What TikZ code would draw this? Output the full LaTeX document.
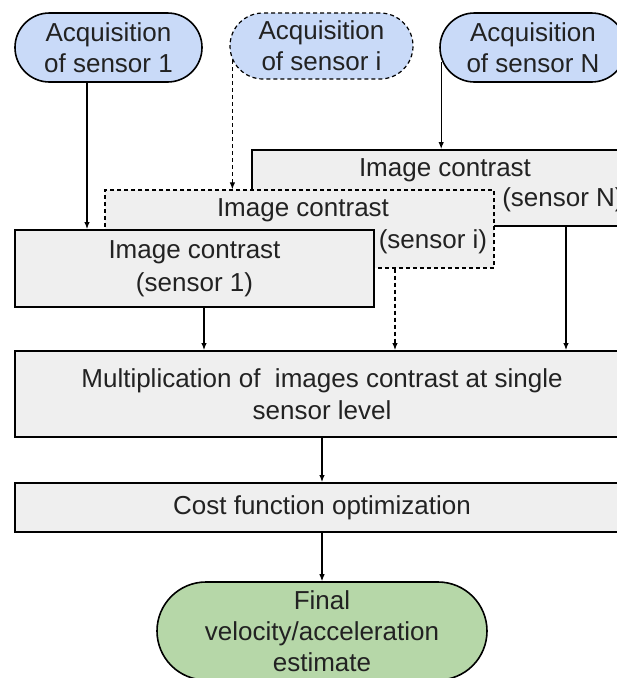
\documentclass[tikz,border=0pt]{standalone}
\usepackage{fontspec}
\setmainfont{Liberation Sans}
\usetikzlibrary{arrows.meta,calc}
\definecolor{boxgray}{HTML}{EFEFEF}
\definecolor{acqblue}{HTML}{C9DAF8}
\definecolor{fingreen}{HTML}{B6D7A8}
\definecolor{txt}{HTML}{222222}
\begin{document}
\begin{tikzpicture}[x=1pt,y=-1pt,
  every node/.style={font=\fontsize{26}{31}\selectfont, text=txt, inner sep=0pt},
  stadium/.style={draw=black, line width=1.6pt, fill=acqblue, align=center},
  procbox/.style={draw=black, line width=2pt, fill=boxgray, align=center},
  dashbox/.style={line width=1.2pt, dash pattern=on 4pt off 3pt},
  conn/.style={-{Latex[length=7pt,width=5.5pt]}, line width=1.1pt, draw=black},
  dconn/.style={conn, dash pattern=on 4pt off 3pt}
]
\useasboundingbox (0,0) rectangle (617,678);
\clip (0,0) rectangle (617,678);

% acquisition nodes
\node[stadium, minimum width=187pt, minimum height=69pt, rounded corners=34.5pt] (acq1) at (108.5,47.5) {Acquisition\\of sensor 1};
\node[stadium, dashbox, minimum width=183pt, minimum height=66pt, rounded corners=33pt] (acqi) at (321.5,46) {Acquisition\\of sensor i};
\node[stadium, minimum width=186pt, minimum height=69pt, rounded corners=34.5pt] (acqN) at (533,47.5) {Acquisition\\of sensor N};

% image contrast boxes (stacked)
\node[procbox, minimum width=384pt, minimum height=76pt] (icN) at (444,188) {};
\node (icNa) at (445,170) {Image contrast};
\node (icNb) at (563,200) {(sensor N)};

\node[procbox, dashbox, minimum width=389pt, minimum height=78pt] (ici) at (299.5,229) {};
\node (icia) at (303,210) {Image contrast};
\node (icib) at (433,242) {(sensor i)};

\node[procbox, minimum width=359pt, minimum height=77pt, font=\fontsize{26}{33}\selectfont] (ic1) at (194.5,268.5) {Image contrast\\(sensor 1)};

% later stages
\node[procbox, minimum width=614pt, minimum height=86pt, font=\fontsize{26}{32}\selectfont] (mult) at (322,394) {Multiplication of\ \ images contrast at single\\sensor level};
\node[procbox, minimum width=614pt, minimum height=49pt] (cost) at (322,507.5) {Cost function optimization};
\node[draw=black, line width=1.6pt, fill=fingreen, align=center, minimum width=330pt, minimum height=98pt, rounded corners=49pt] (final) at (322,631) {Final\\velocity/acceleration\\estimate};

% connectors
\coordinate (s1) at ($(acq1.south)+(-21.5,0)$);
\draw[conn] (s1) -- (s1 |- ic1.north);
\coordinate (si) at ($(acqi.west)+(3,14)$);
\draw[dconn] (si) -- (si |- ici.north);
\coordinate (sN) at ($(acqN.west)+(2,14.5)$);
\draw[conn] (sN) -- (sN |- icN.north);

\coordinate (m1) at ($(ic1.south)+(9.5,0)$);
\draw[conn] (m1) -- (m1 |- mult.north);
\coordinate (mi) at ($(ici.south)+(95.5,0)$);
\draw[dconn] (mi) -- (mi |- mult.north);
\coordinate (mN) at ($(icN.south)+(122,0)$);
\draw[conn] (mN) -- (mN |- mult.north);

\draw[conn] (mult.south) -- (cost.north);
\draw[conn] (cost.south) -- (final.north);
\end{tikzpicture}
\end{document}
